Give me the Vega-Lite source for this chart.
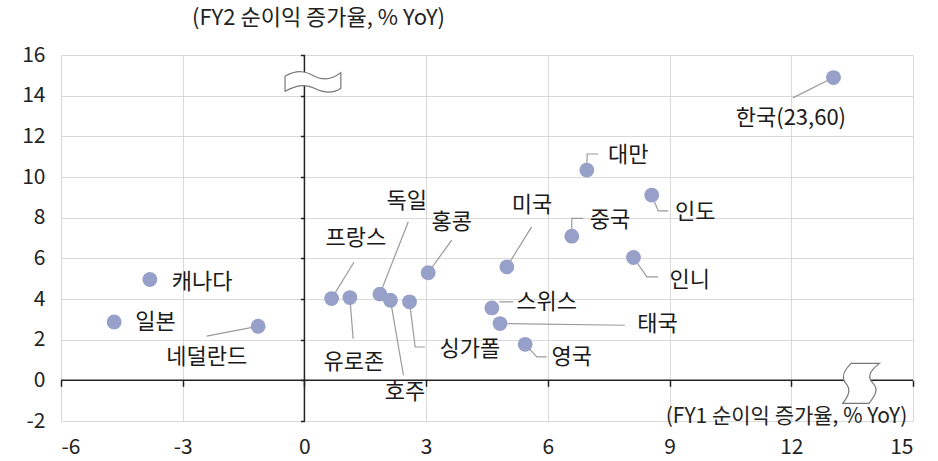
{
  "$schema": "https://vega.github.io/schema/vega-lite/v6.json",
  "width": 852,
  "height": 366,
  "autosize": {"type": "none"},
  "padding": {"left": 61, "top": 55, "right": 25, "bottom": 40},
  "background": "white",
  "config": {
    "view": {"stroke": null},
    "font": "Noto Sans CJK KR",
    "axis": {"labelFont": "Noto Sans CJK KR", "titleFont": "Noto Sans CJK KR"}
  },
  "datasets": {
    "pts": [
      {"name": "캐나다", "x": -3.81, "y": 4.96, "lx": -2.52, "ly": 4.84},
      {"name": "일본", "x": -4.69, "y": 2.87, "lx": -3.67, "ly": 2.87},
      {"name": "네덜란드", "x": -1.14, "y": 2.66, "lx": -2.41, "ly": 1.15},
      {"name": "프랑스", "x": 0.67, "y": 4.02, "lx": 1.27, "ly": 6.98},
      {"name": "유로존", "x": 1.12, "y": 4.07, "lx": 1.22, "ly": 0.9},
      {"name": "독일", "x": 1.86, "y": 4.24, "lx": 2.52, "ly": 8.82},
      {"name": "호주", "x": 2.12, "y": 3.94, "lx": 2.48, "ly": -0.58},
      {"name": "싱가폴", "x": 2.59, "y": 3.86, "lx": 4.08, "ly": 1.56},
      {"name": "홍콩", "x": 3.05, "y": 5.29, "lx": 3.63, "ly": 7.8},
      {"name": "미국", "x": 4.99, "y": 5.58, "lx": 5.61, "ly": 8.62},
      {"name": "중국", "x": 6.59, "y": 7.09, "lx": 7.53, "ly": 7.88},
      {"name": "대만", "x": 6.96, "y": 10.34, "lx": 7.98, "ly": 11.08},
      {"name": "인도", "x": 8.56, "y": 9.11, "lx": 9.63, "ly": 8.29},
      {"name": "인니", "x": 8.11, "y": 6.04, "lx": 9.5, "ly": 4.93},
      {"name": "스위스", "x": 4.62, "y": 3.56, "lx": 5.97, "ly": 3.86},
      {"name": "태국", "x": 4.82, "y": 2.79, "lx": 8.7, "ly": 2.79},
      {"name": "영국", "x": 5.44, "y": 1.77, "lx": 6.59, "ly": 1.15},
      {"name": "한국(23,60)", "x": 13.04, "y": 14.89, "lx": 11.99, "ly": 12.91}
    ],
    "leaders": [
      {"id": "네덜란드", "o": 0, "x": -2.41, "y": 2.17},
      {"id": "네덜란드", "o": 1, "x": -1.14, "y": 2.66},
      {"id": "프랑스", "o": 0, "x": 1.22, "y": 5.81},
      {"id": "프랑스", "o": 1, "x": 0.67, "y": 4.02},
      {"id": "유로존", "o": 0, "x": 1.2, "y": 2.05},
      {"id": "유로존", "o": 1, "x": 1.12, "y": 4.07},
      {"id": "독일", "o": 0, "x": 2.56, "y": 7.8},
      {"id": "독일", "o": 1, "x": 1.86, "y": 4.24},
      {"id": "호주", "o": 0, "x": 2.44, "y": 0.25},
      {"id": "호주", "o": 1, "x": 2.12, "y": 3.94},
      {"id": "싱가폴", "o": 0, "x": 2.59, "y": 3.86},
      {"id": "싱가폴", "o": 1, "x": 2.73, "y": 1.64},
      {"id": "싱가폴", "o": 2, "x": 2.97, "y": 1.64},
      {"id": "홍콩", "o": 0, "x": 3.63, "y": 6.9},
      {"id": "홍콩", "o": 1, "x": 3.05, "y": 5.29},
      {"id": "미국", "o": 0, "x": 5.6, "y": 7.55},
      {"id": "미국", "o": 1, "x": 4.99, "y": 5.58},
      {"id": "중국", "o": 0, "x": 6.59, "y": 7.09},
      {"id": "중국", "o": 1, "x": 6.59, "y": 7.97},
      {"id": "중국", "o": 2, "x": 6.87, "y": 7.97},
      {"id": "대만", "o": 0, "x": 6.96, "y": 10.34},
      {"id": "대만", "o": 1, "x": 6.97, "y": 11.13},
      {"id": "대만", "o": 2, "x": 7.24, "y": 11.13},
      {"id": "인도", "o": 0, "x": 8.56, "y": 9.11},
      {"id": "인도", "o": 1, "x": 8.72, "y": 8.33},
      {"id": "인도", "o": 2, "x": 8.97, "y": 8.33},
      {"id": "인니", "o": 0, "x": 8.11, "y": 6.04},
      {"id": "인니", "o": 1, "x": 8.44, "y": 5.09},
      {"id": "인니", "o": 2, "x": 8.72, "y": 5.09},
      {"id": "스위스", "o": 0, "x": 4.8, "y": 3.86},
      {"id": "스위스", "o": 1, "x": 5.15, "y": 3.86},
      {"id": "태국", "o": 0, "x": 4.82, "y": 2.79},
      {"id": "태국", "o": 1, "x": 7.9, "y": 2.71},
      {"id": "영국", "o": 0, "x": 5.44, "y": 1.77},
      {"id": "영국", "o": 1, "x": 5.73, "y": 1.15},
      {"id": "영국", "o": 2, "x": 5.97, "y": 1.15},
      {"id": "한국", "o": 0, "x": 12.04, "y": 13.89},
      {"id": "한국", "o": 1, "x": 13.04, "y": 14.89}
    ],
    "zero": [{"v": 0}],
    "breakTop": [{"x": 0.21, "y": 14.66}],
    "breakBottom": [{"x": 13.72, "y": -0.15}]
  },
  "layer": [
    {
      "data": {"name": "leaders"},
      "mark": {"type": "line", "stroke": "#9a9a9a", "strokeWidth": 1.2},
      "encoding": {
        "x": {
          "field": "x", "type": "quantitative",
          "scale": {"domain": [-6, 15], "nice": false, "zero": false},
          "axis": {
            "orient": "bottom", "values": [-6, -3, 0, 3, 6, 9, 12, 15],
            "labelExpr": "toString(datum.value)",
            "grid": true, "gridColor": "#d9d9d9", "gridWidth": 1,
            "domain": false, "ticks": false,
            "labelFontSize": 21, "labelColor": "#222", "labelPadding": 15, "labelBaseline": "top",
            "title": "(FY1 순이익 증가율, % YoY)", "titleFontSize": 21, "titleFontWeight": "normal", "titleColor": "#222",
            "titleAngle": 0, "titleX": 725, "titleY": -5, "titleAlign": "center", "titleBaseline": "middle"
          }
        },
        "y": {
          "field": "y", "type": "quantitative",
          "scale": {"domain": [-2, 16], "nice": false, "zero": false},
          "axis": {
            "orient": "left", "values": [-2, 0, 2, 4, 6, 8, 10, 12, 14, 16],
            "labelExpr": "toString(datum.value)",
            "grid": true, "gridColor": "#d9d9d9", "gridWidth": 1,
            "domain": false, "ticks": false,
            "labelFontSize": 21, "labelColor": "#222", "labelPadding": 16,
            "title": "(FY2 순이익 증가율, % YoY)", "titleFontSize": 22, "titleFontWeight": "normal", "titleColor": "#222",
            "titleAngle": 0, "titleX": 257, "titleY": -38, "titleAlign": "center", "titleBaseline": "middle"
          }
        },
        "detail": {"field": "id", "type": "nominal"},
        "order": {"field": "o", "type": "quantitative"}
      }
    },
    {
      "data": {"name": "zero"},
      "mark": {"type": "rule", "stroke": "#222", "strokeWidth": 1.5},
      "encoding": {"x": {"field": "v", "type": "quantitative", "axis": null}}
    },
    {
      "data": {"name": "zero"},
      "mark": {"type": "rule", "stroke": "#222", "strokeWidth": 1.5},
      "encoding": {"y": {"field": "v", "type": "quantitative", "axis": null}}
    },
    {
      "data": {"name": "pts"},
      "mark": {"type": "circle", "size": 220, "color": "#96a0c8", "opacity": 1},
      "encoding": {
        "x": {
          "field": "x", "type": "quantitative",
          "axis": {
            "orient": "bottom", "offset": -40.67, "values": [-6, -3, 0, 3, 6, 9, 12, 15],
            "grid": false, "domain": false, "labels": false, "ticks": true,
            "tickColor": "#222", "tickSize": 6, "tickWidth": 1.5, "title": null
          }
        },
        "y": {
          "field": "y", "type": "quantitative",
          "axis": {
            "orient": "left", "offset": -243.43, "values": [-2, 0, 2, 4, 6, 8, 10, 12, 14, 16],
            "grid": false, "domain": false, "labels": false, "ticks": true,
            "tickColor": "#222", "tickSize": 4, "tickWidth": 1.5, "title": null
          }
        }
      }
    },
    {
      "data": {"name": "pts"},
      "mark": {"type": "text", "fontSize": 22, "fontWeight": "normal", "color": "#1a1a1a", "align": "center", "baseline": "middle"},
      "encoding": {
        "x": {"field": "lx", "type": "quantitative", "axis": null},
        "y": {"field": "ly", "type": "quantitative", "axis": null},
        "text": {"field": "name", "type": "nominal"}
      }
    },
    {
      "data": {"name": "breakTop"},
      "mark": {
        "type": "point", "filled": true, "fill": "white", "stroke": "#777", "strokeWidth": 1.2, "opacity": 1, "size": 3600,
        "shape": "M -0.93 -0.2 C -0.5 -0.45 -0.2 -0.35 0.05 -0.2 C 0.35 -0.05 0.65 -0.1 0.93 -0.32 L 0.93 0.2 C 0.65 0.4 0.35 0.35 0.05 0.2 C -0.2 0.07 -0.5 0.05 -0.93 0.3 Z"
      },
      "encoding": {
        "x": {"field": "x", "type": "quantitative", "axis": null},
        "y": {"field": "y", "type": "quantitative", "axis": null}
      }
    },
    {
      "data": {"name": "breakBottom"},
      "mark": {
        "type": "point", "filled": true, "fill": "white", "stroke": "#777", "strokeWidth": 1.2, "opacity": 1, "size": 1600,
        "shape": "M -0.5 -1 L 0.92 -1 C 0.4 -0.6 0.3 -0.3 0.6 0 C 0.9 0.3 0.7 0.6 0.4 1 L -0.92 1 C -0.6 0.6 -0.5 0.3 -0.76 0 C -1 -0.3 -0.9 -0.6 -0.5 -1 Z"
      },
      "encoding": {
        "x": {"field": "x", "type": "quantitative", "axis": null},
        "y": {"field": "y", "type": "quantitative", "axis": null}
      }
    }
  ],
  "resolve": {"axis": {"x": "independent", "y": "independent"}}
}
